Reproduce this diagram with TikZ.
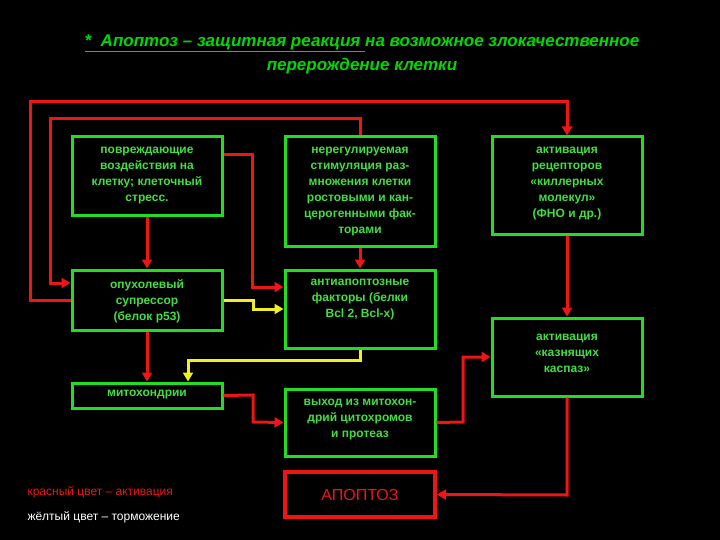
\documentclass[tikz,border=0pt]{standalone}
\usepackage{fontspec}
\setmainfont{Liberation Sans}
\usetikzlibrary{arrows.meta}
\definecolor{gbox}{HTML}{22DD22}
\definecolor{gtxt}{HTML}{44DD44}
\definecolor{rr}{HTML}{EE1515}
\definecolor{yy}{HTML}{F0F020}
\begin{document}
\begin{tikzpicture}[x=1pt,y=-1pt,
 box/.style={draw=gbox,line width=3pt,inner sep=0pt},
 bt/.style={text=gtxt,font=\bfseries\fontsize{12}{16}\selectfont,align=center,anchor=north,inner sep=0pt},
 rl/.style={draw=rr,line width=3pt,-{Triangle[length=9pt,width=10pt]}},
 yl/.style={draw=yy,line width=3pt,-{Triangle[length=9pt,width=10pt]}}]
\fill[black] (0,0) rectangle (720,540);
\useasboundingbox (0,0) rectangle (720,540);
\node[text=green!85!black,font=\bfseries\itshape\fontsize{17}{24}\selectfont,align=center] (title) at (362,54)
 {\underline{*\ \ Апоптоз – защитная реакция }на возможное злокачественное\\перерождение клетки};
\node[box,minimum width=150,minimum height=79] (A) at (147,176.5) {};
\node[bt] (At) at (147,147) {повреждающие\\воздействия на\\клетку; клеточный\\стресс.};
\node[box,minimum width=150,minimum height=109] (B) at (360,191.5) {};
\node[bt] (Bt) at (360,147) {нерегулируемая\\стимуляция раз-\\множения клетки\\ростовыми и кан-\\церогенными фак-\\торами};
\node[box,minimum width=150,minimum height=97] (C) at (567,185.5) {};
\node[bt] (Ct) at (567,147) {активация\\рецепторов\\«киллерных\\молекул»\\(ФНО и др.)};
\node[box,minimum width=150,minimum height=60] (D) at (147,300) {};
\node[bt] (Dt) at (147,279) {опухолевый\\супрессор\\(белок р53)};
\node[box,minimum width=150,minimum height=78] (E) at (360,309) {};
\node[bt] (Et) at (360,279) {антиапоптозные\\факторы (белки\\Bcl 2, Bcl-x)};
\node[box,minimum width=150,minimum height=78] (F) at (567,357) {};
\node[bt] (Ft) at (567,334) {активация\\«казнящих\\каспаз»};
\node[box,minimum width=150,minimum height=25] (G) at (147,395.5) {};
\node[bt] (Gt) at (147,390) {митохондрии};
\node[box,minimum width=150,minimum height=67] (H) at (360,422.5) {};
\node[bt] (Ht) at (360,399) {выход из митохон-\\дрий цитохромов\\и протеаз};
\node[draw=rr,line width=4pt,minimum width=150,minimum height=45,text=rr,font=\fontsize{16}{18}\selectfont] (I) at (360,494.5) {АПОПТОЗ};
\node[anchor=west,text=rr,font=\fontsize{12}{14}\selectfont] (L1) at (24,492) {красный цвет – активация};
\node[anchor=west,text=white,font=\fontsize{12}{14}\selectfont] (L2) at (24,517) {жёлтый цвет – торможение};
% connectors
\coordinate (c1) at (30,300);
\draw[rl] (D.west) -- (c1) -- (30,102) -- (567,102) -- (C.north);
\draw[rl] (B.north) -- (360,119) -- (50,119) -- (50,283) -- (D.west |- 0,283);
\draw[rl] (A.east |- 0,155) -- (252,155) -- (252,287) -- (E.west |- 0,287);
\draw[rl] (A.south) -- (D.north);
\draw[rl] (B.south) -- (E.north);
\draw[yl] (D.east) -- (253,300) -- (253,309) -- (E.west |- 0,309);
\draw[yl] (E.south) -- (360,360) -- (188,360) -- (G.north -| 188,0);
\draw[rl] (D.south) -- (G.north);
\draw[rl] (G.east) -- (253,395) -- (253,422) -- (H.west);
\draw[rl] (H.east) -- (463,422) -- (463,357) -- (F.west);
\draw[rl] (C.south) -- (F.north);
\draw[rl] (F.south) -- (567,495) -- (I.east);
\end{tikzpicture}
\end{document}
